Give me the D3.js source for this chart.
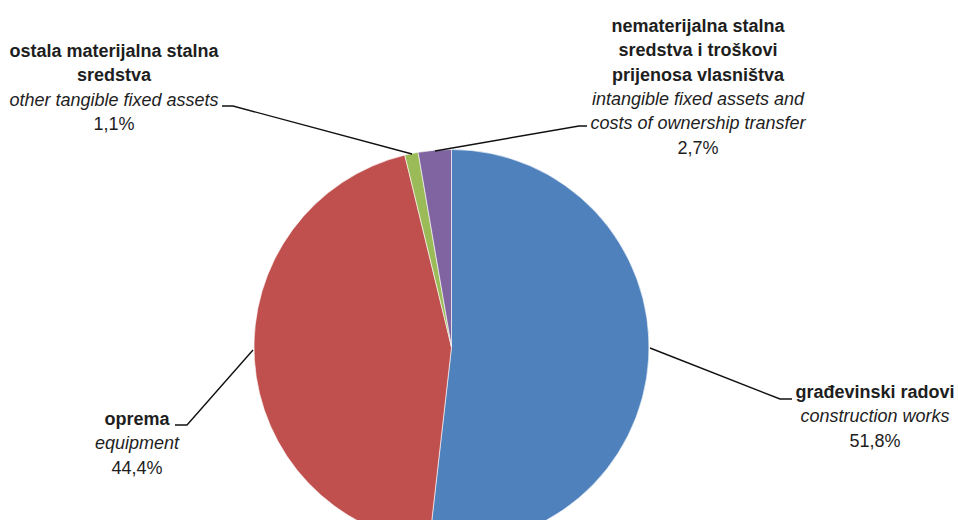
<!DOCTYPE html>
<html>
<head>
<meta charset="utf-8">
<script src="https://cdn.jsdelivr.net/npm/d3@7"></script>
<style>
  html, body { margin: 0; padding: 0; background: #fff; }
  svg { display: block; }
  text { font-family: "Liberation Sans", Arial, sans-serif; fill: #1e1e1e; }
</style>
</head>
<body>
<svg id="chart" width="958" height="520"></svg>
<script>
// ---- data ----
const categories = ["građevinski radovi", "oprema", "ostala materijalna stalna sredstva", "nematerijalna stalna sredstva i troškovi prijenosa vlasništva"];
const labelsHr = [["građevinski radovi"], ["oprema"], ["ostala materijalna stalna", "sredstva"], ["nematerijalna stalna", "sredstva i troškovi", "prijenosa vlasništva"]];
const labelsEn = [["construction works"], ["equipment"], ["other tangible fixed assets"], ["intangible fixed assets and", "costs of ownership transfer"]];
const values = [51.8, 44.4, 1.1, 2.7];
const valueLabels = ["51,8%", "44,4%", "1,1%", "2,7%"];
const colors = ["#4F81BD", "#C0504D", "#9BBB59", "#8064A2"];

// ---- layout ----
const W = 958, H = 520;
const cx = 451.5, cy = 347, R = 197.5;
const lineH = 24.3;
// label anchor: center x, baseline of first line
const labelPos = [
  { x: 875, y: 398 },
  { x: 137, y: 425 },
  { x: 114, y: 57 },
  { x: 698, y: 32 }
];
// leader lines: [start on pie edge, elbow, end]
const leaders = [
  [[650, 348], [780, 399], [792, 399]],
  [[253, 350], [187, 425], [175, 425]],
  [[412, 154], [233, 106], [222, 106]],
  [[435, 151], [579, 126], [587, 126]]
];

const svg = d3.select("#chart");

const pie = d3.pie().value(d => d).sort(null).startAngle(0).endAngle(2 * Math.PI);
const arc = d3.arc().innerRadius(0).outerRadius(R);

const g = svg.append("g").attr("transform", `translate(${cx},${cy})`);
g.selectAll("path")
  .data(pie(values))
  .join("path")
  .attr("d", arc)
  .attr("fill", (d, i) => colors[i])
  .attr("stroke", "#fff")
  .attr("stroke-width", 0.6);

// leader lines
svg.selectAll("polyline.leader")
  .data(leaders)
  .join("polyline")
  .attr("class", "leader")
  .attr("points", d => d.map(p => p.join(",")).join(" "))
  .attr("fill", "none")
  .attr("stroke", "#111")
  .attr("stroke-width", 1.4);

// labels
categories.forEach((c, i) => {
  const t = svg.append("text")
    .attr("x", labelPos[i].x)
    .attr("y", labelPos[i].y)
    .attr("text-anchor", "middle")
    .style("font-size", "18px");
  let k = 0;
  labelsHr[i].forEach(s => {
    t.append("tspan").attr("x", labelPos[i].x).attr("y", labelPos[i].y + k * lineH)
      .style("font-weight", "bold").text(s);
    k++;
  });
  labelsEn[i].forEach(s => {
    t.append("tspan").attr("x", labelPos[i].x).attr("y", labelPos[i].y + k * lineH)
      .style("font-style", "italic").text(s);
    k++;
  });
  t.append("tspan").attr("x", labelPos[i].x).attr("y", labelPos[i].y + k * lineH)
    .text(valueLabels[i]);
});
</script>
</body>
</html>
